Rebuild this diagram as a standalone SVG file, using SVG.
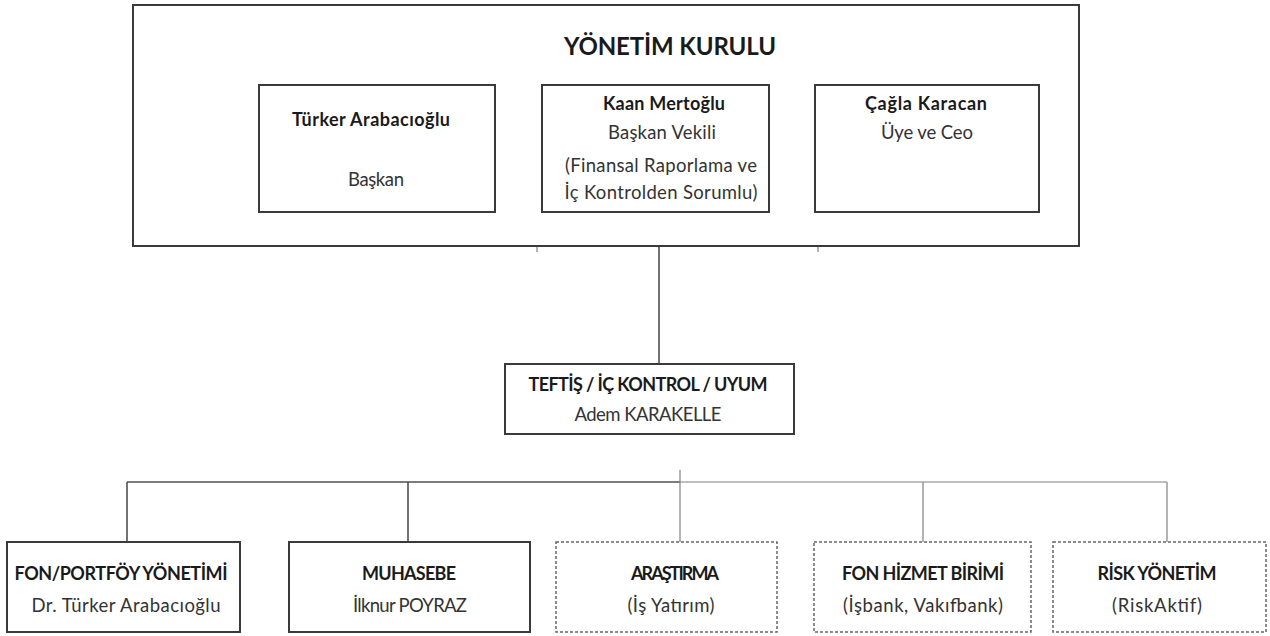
<svg xmlns="http://www.w3.org/2000/svg" width="1270" height="636" viewBox="0 0 1270 636">
<style>
.box{fill:#fff;stroke:#3a3a3a;stroke-width:2}
.dbox{fill:#fff;stroke:#666;stroke-width:1.5;stroke-dasharray:3 2}
.ln{fill:none;stroke:#505050;stroke-width:1.6}
.lt{fill:none;stroke:#808080;stroke-width:1.2}
text{font-family:Lato,"Open Sans","Liberation Sans",sans-serif;fill:#1a1a1a;text-anchor:middle}
.b{font-weight:bold;font-size:18px}
.r{font-size:18.5px;fill:#333}
.t{font-weight:bold;font-size:24px}
</style>
<rect width="1270" height="636" fill="#fff"/>
<g id="connectors">
<line class="ln" x1="659" y1="247" x2="659" y2="364"/>
<line class="lt" x1="537" y1="246" x2="537" y2="252"/>
<line class="lt" x1="818" y1="246" x2="818" y2="252"/>
<line class="ln" x1="127" y1="482" x2="680" y2="482"/>
<line class="lt" x1="680" y1="482" x2="1167" y2="482"/>
<line class="lt" x1="680" y1="470" x2="680" y2="482"/>
<line class="ln" x1="127" y1="482" x2="127" y2="542"/>
<line class="ln" x1="408" y1="482" x2="408" y2="542"/>
<line class="lt" x1="680" y1="482" x2="680" y2="542"/>
<line class="lt" x1="923" y1="482" x2="923" y2="542"/>
<line class="lt" x1="1167" y1="482" x2="1167" y2="542"/>
</g>
<g id="yonetim-kurulu">
<rect class="box" x="133" y="5" width="946" height="241"/>
<text class="t" x="670" y="55" textLength="212">YÖNETİM KURULU</text>
</g>
<g id="turker">
<rect class="box" x="259" y="85" width="236" height="127"/>
<text class="b" x="371" y="126" textLength="158">Türker Arabacıoğlu</text>
<text class="r" x="376" y="186" textLength="56">Başkan</text>
</g>
<g id="kaan">
<rect class="box" x="542" y="85" width="227" height="127"/>
<text class="b" x="664" y="110" textLength="122">Kaan Mertoğlu</text>
<text class="r" x="662" y="139" textLength="108">Başkan Vekili</text>
<text class="r" x="661" y="172" textLength="192">(Finansal Raporlama ve</text>
<text class="r" x="661" y="199" textLength="193">İç Kontrolden Sorumlu)</text>
</g>
<g id="cagla">
<rect class="box" x="815" y="85" width="224" height="127"/>
<text class="b" x="926" y="110" textLength="122">Çağla Karacan</text>
<text class="r" x="927" y="139" textLength="92">Üye  ve Ceo</text>
</g>
<g id="teftis">
<rect class="box" x="505" y="364" width="289" height="70"/>
<text class="b" x="648" y="391" font-size="17" textLength="239">TEFTİŞ / İÇ KONTROL / UYUM</text>
<text class="r" x="648" y="421" textLength="147">Adem KARAKELLE</text>
</g>
<g id="fon-portfoy">
<rect class="box" x="7" y="542" width="233" height="90"/>
<text class="b" x="121" y="580" textLength="213">FON/PORTFÖY YÖNETİMİ</text>
<text class="r" x="126" y="612" textLength="189">Dr. Türker Arabacıoğlu</text>
</g>
<g id="muhasebe">
<rect class="box" x="289" y="542" width="241" height="90"/>
<text class="b" x="409" y="580" textLength="94">MUHASEBE</text>
<text class="r" x="410" y="612" textLength="114">İlknur POYRAZ</text>
</g>
<g id="arastirma">
<rect class="dbox" x="556" y="542" width="221" height="90"/>
<text class="b" x="675" y="580" textLength="88">ARAŞTIRMA</text>
<text class="r" x="671" y="612" textLength="87">(İş Yatırım)</text>
</g>
<g id="fon-hizmet">
<rect class="dbox" x="814" y="542" width="217" height="90"/>
<text class="b" x="923" y="580" textLength="162">FON HİZMET BİRİMİ</text>
<text class="r" x="923" y="612" textLength="160">(İşbank, Vakıfbank)</text>
</g>
<g id="risk">
<rect class="dbox" x="1053" y="542" width="213" height="90"/>
<text class="b" x="1157" y="580" textLength="119">RİSK YÖNETİM</text>
<text class="r" x="1157" y="612" textLength="90">(RiskAktif)</text>
</g>
</svg>
